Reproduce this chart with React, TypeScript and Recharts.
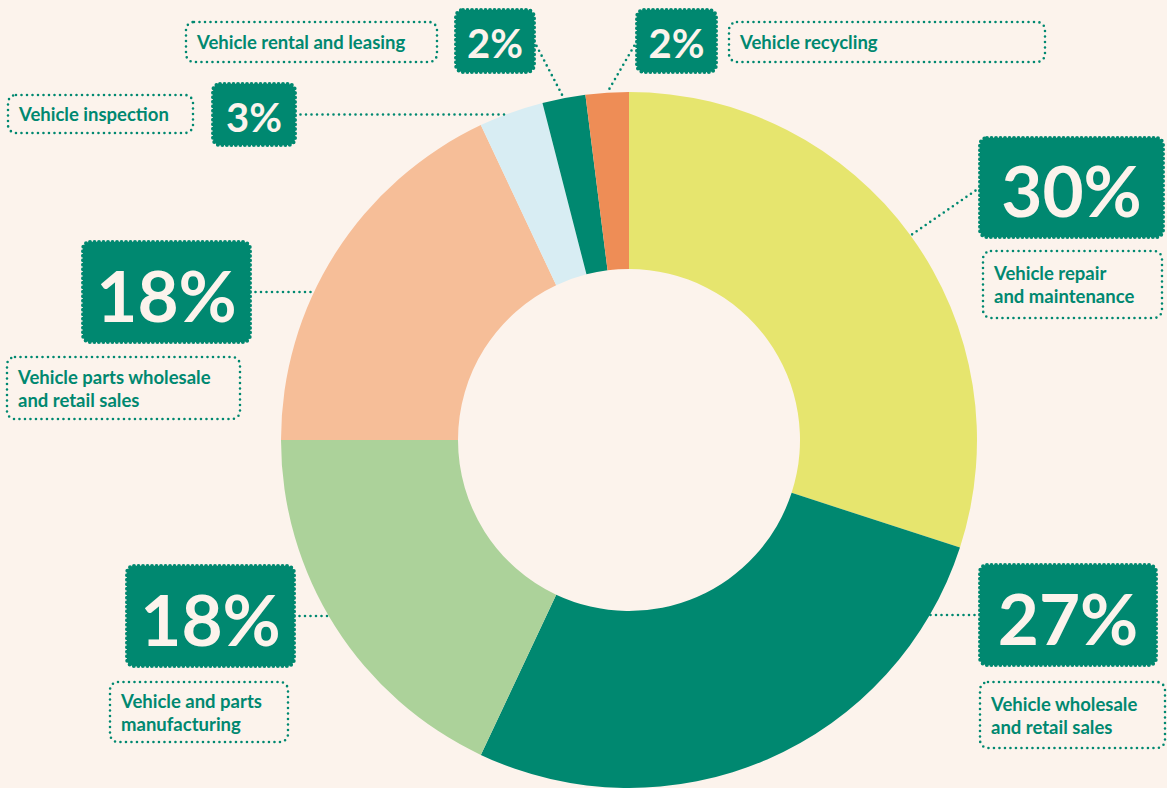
import React from 'react';
import { PieChart, Pie, Cell } from 'recharts';

const CATEGORIES = [
  'Vehicle repair and maintenance',
  'Vehicle wholesale and retail sales',
  'Vehicle and parts manufacturing',
  'Vehicle parts wholesale and retail sales',
  'Vehicle inspection',
  'Vehicle rental and leasing',
  'Vehicle recycling',
];
const SHARES = [30, 27, 18, 18, 3, 2, 2];
const NAME_LINES = [
  ['Vehicle repair', 'and maintenance'],
  ['Vehicle wholesale', 'and retail sales'],
  ['Vehicle and parts', 'manufacturing'],
  ['Vehicle parts wholesale', 'and retail sales'],
  ['Vehicle inspection'],
  ['Vehicle rental and leasing'],
  ['Vehicle recycling'],
];

const COLORS = ['#E6E56E', '#008870', '#ACD29A', '#F6BE98', '#D8EDF3', '#008870', '#EE8D56'];
const TEAL = '#008870';
const BG = '#FCF3EC';
const FONT = 'Lato, "Open Sans", sans-serif';

// hand placed annotation boxes (layout only)
const LAYOUT = [
  { pct: { x: 980, y: 138, w: 183, h: 99, fs: 71 }, name: { x: 983, y: 251, w: 179, h: 67 }, leader: 'mid' },
  { pct: { x: 980, y: 565, w: 176, h: 100, fs: 71 }, name: { x: 980, y: 682, w: 185, h: 66 }, leader: 'h' },
  { pct: { x: 127, y: 566, w: 167, h: 100, fs: 71 }, name: { x: 110, y: 682, w: 178, h: 60 }, leader: 'h' },
  { pct: { x: 83, y: 242, w: 167, h: 100, fs: 71 }, name: { x: 7, y: 357, w: 233, h: 62 }, leader: 'h' },
  { pct: { x: 213, y: 84, w: 82, h: 61, fs: 40 }, name: { x: 8, y: 95, w: 185, h: 38 }, leader: 'h' },
  { pct: { x: 456, y: 10, w: 78, h: 62, fs: 40 }, name: { x: 186, y: 22, w: 251, h: 40 }, leader: 'mid' },
  { pct: { x: 637, y: 10, w: 79, h: 62, fs: 40 }, name: { x: 729, y: 22, w: 316, h: 40 }, leader: 'mid' },
];

const data = CATEGORIES.map((name, i) => ({ name, value: SHARES[i] }));

const RAD = Math.PI / 180;

const renderLabel = (props: any) => {
  const { cx, cy, outerRadius, midAngle, index } = props;
  const lay = LAYOUT[index];
  const { pct, name } = lay;
  const midY = pct.y + pct.h / 2;
  const onLeft = pct.x + pct.w / 2 < cx;
  const x1 = onLeft ? pct.x + pct.w : pct.x;
  let x2: number;
  let y2: number;
  if (lay.leader === 'h') {
    const dy = midY - cy;
    const dx = Math.sqrt(Math.max(outerRadius * outerRadius - dy * dy, 0));
    x2 = onLeft ? cx - dx : cx + dx;
    y2 = midY;
  } else {
    x2 = cx + outerRadius * Math.cos(-midAngle * RAD);
    y2 = cy + outerRadius * Math.sin(-midAngle * RAD);
  }
  const lines = NAME_LINES[index];
  const lh = 23;
  const nameMid = name.y + name.h / 2;
  return (
    <g key={`lbl-${index}`}>
      <line x1={x1} y1={midY} x2={x2} y2={y2} stroke={TEAL} strokeWidth={2.6}
        strokeDasharray="0 5.5" strokeLinecap="round" />
      <rect x={pct.x} y={pct.y} width={pct.w} height={pct.h} rx={7} fill={TEAL}
        stroke={TEAL} strokeWidth={4} strokeDasharray="0 4.5" strokeLinecap="round" />
      <text x={pct.x + pct.w / 2} y={midY + 2} textAnchor="middle" dominantBaseline="central"
        fill={BG} fontFamily={FONT} fontWeight={700} fontSize={pct.fs}>
        {SHARES[index]}%
      </text>
      <rect x={name.x} y={name.y} width={name.w} height={name.h} rx={8} fill="none"
        stroke={TEAL} strokeWidth={2.6} strokeDasharray="0 5.5" strokeLinecap="round" />
      {lines.map((ln, k) => (
        <text key={k} x={name.x + 11} y={nameMid + (k - (lines.length - 1) / 2) * lh}
          dominantBaseline="central" fill={TEAL} fontFamily={FONT} fontWeight={700} fontSize={18.5}>
          {ln}
        </text>
      ))}
    </g>
  );
};

export default function App() {
  return (
    <div style={{ position: 'fixed', left: 0, top: 0, width: 1167, height: 788, background: BG, overflow: 'hidden' }}>
      <PieChart width={1167} height={788} margin={{ top: 0, right: 0, bottom: 0, left: 0 }}>
        <Pie
          data={data}
          dataKey="value"
          nameKey="name"
          cx={629}
          cy={440}
          innerRadius={171}
          outerRadius={348}
          startAngle={90}
          endAngle={-270}
          stroke="none"
          labelLine={false}
          label={renderLabel}
          isAnimationActive={false}
        >
          {data.map((entry, i) => (
            <Cell key={`cell-${i}`} fill={COLORS[i]} />
          ))}
        </Pie>
      </PieChart>
    </div>
  );
}
